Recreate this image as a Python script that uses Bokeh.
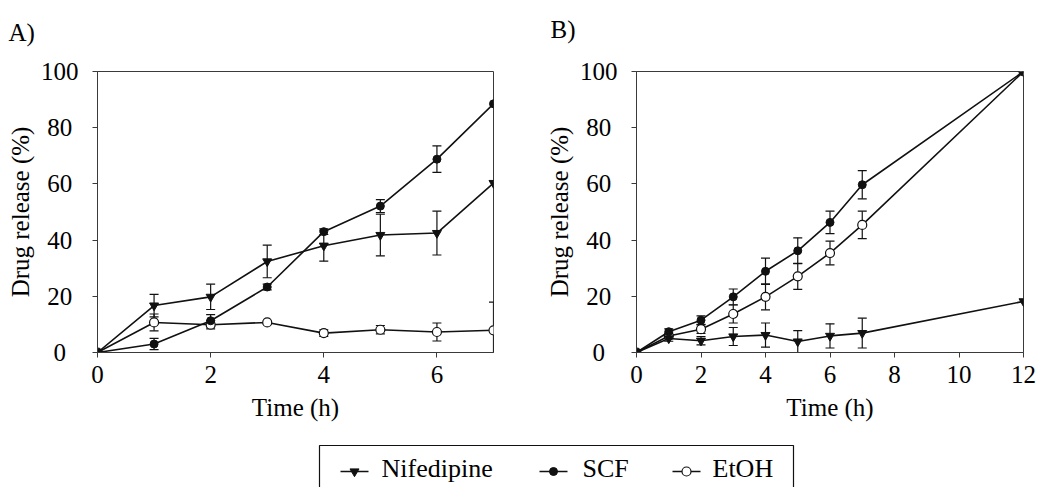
import numpy as np
from bokeh.plotting import figure
from bokeh.models import (Range1d, ColumnDataSource, Whisker, TeeHead,
                          FixedTicker)
from bokeh.layouts import column, row
from bokeh.embed import file_html
from bokeh.resources import INLINE

FONT = "Liberation Serif"

# ---------------- data ----------------
series_names = ["Nifedipine", "SCF", "EtOH"]

A_time = [0, 1, 2, 3, 4, 5, 6, 7]
A_nif = [0, 16.7, 19.8, 32.4, 38.0, 41.8, 42.5, 60.3]
A_nif_err = [0, 4.0, 4.5, 5.8, 5.5, 7.4, 7.8, 0]
A_scf = [0, 3.0, 11.3, 23.3, 43.0, 52.1, 68.8, 88.5]
A_scf_err = [0, 2.0, 2.2, 1.0, 1.0, 2.3, 4.7, 0]
A_etoh = [0, 10.7, 9.9, 10.7, 6.9, 8.1, 7.3, 7.9]
A_etoh_err = [0, 3.0, 1.5, 0, 1.2, 1.5, 3.2, 10.0]

B_time = [0, 1, 2, 3, 4, 5, 6, 7, 12]
B_nif = [0, 5.0, 4.2, 5.7, 6.2, 3.9, 5.9, 6.9, 18.2]
B_nif_err = [0, 1.0, 1.5, 3.2, 4.3, 3.9, 4.3, 5.3, 0]
B_scf = [0, 7.4, 11.5, 19.8, 28.9, 36.2, 46.3, 59.7, 100]
B_scf_err = [0, 1.0, 1.5, 2.8, 4.7, 4.6, 4.0, 5.0, 0]
B_etoh = [0, 5.9, 8.3, 13.7, 19.8, 27.1, 35.4, 45.4, 100]
B_etoh_err = [0, 1.0, 1.5, 3.2, 4.6, 4.6, 4.2, 4.9, 0]

A_xticks = [0, 2, 4, 6]
B_xticks = [0, 2, 4, 6, 8, 10, 12]
y_ticks = [0, 20, 40, 60, 80, 100]
y_tick_labels = ["0", "20", "40", "60", "80", "100"]

x_label = "Time (h)"
y_label = "Drug release (%)"
panel_labels = ["A)", "B)"]

LINE = "#111111"
AXIS = "#3a3a3a"

# pad y tick labels so that they look centred (as in the reference)
PAD = {1: "\u2002", 2: "\u2005", 3: ""}
y_overrides = {t: s + PAD[len(s)] for t, s in zip(y_ticks, y_tick_labels)}


def strip(height, y_top, y_bottom):
    s = figure(width=1046, height=height, x_range=Range1d(0, 1046),
               y_range=Range1d(y_bottom, y_top), toolbar_location=None,
               output_backend="svg", min_border=0)
    s.axis.visible = False
    s.xgrid.visible = False
    s.ygrid.visible = False
    s.outline_line_color = None
    return s


def style(p):
    p.xgrid.visible = False
    p.ygrid.visible = False
    p.outline_line_color = AXIS
    p.outline_line_width = 1
    p.background_fill_color = "white"
    p.border_fill_color = "white"
    for ax in (p.xaxis[0], p.yaxis[0]):
        ax.axis_line_color = AXIS
        ax.major_tick_line_color = AXIS
        ax.minor_tick_line_color = None
        ax.major_tick_in = 0
        ax.major_tick_out = 5
        ax.major_label_text_font = FONT
        ax.major_label_text_font_size = "25px"
        ax.major_label_text_color = "black"
        ax.axis_label_text_font = FONT
        ax.axis_label_text_font_size = "25px"
        ax.axis_label_text_font_style = "normal"
        ax.axis_label_text_color = "black"
    p.xaxis.major_label_standoff = 8
    p.xaxis.axis_label_standoff = 8
    p.yaxis.major_label_standoff = 14
    p.yaxis.axis_label_standoff = 4
    p.yaxis.major_label_overrides = y_overrides


def add_series(p, t, y, err, kind):
    src = ColumnDataSource(dict(x=t, y=y))
    p.line("x", "y", source=src, line_color=LINE, line_width=1.6)
    tt = np.array(t, dtype=float)
    yy = np.array(y, dtype=float)
    ee = np.array(err, dtype=float)
    m = ee > 0
    esrc = ColumnDataSource(dict(x=tt[m], up=yy[m] + ee[m], lo=yy[m] - ee[m]))
    w = Whisker(source=esrc, base="x", upper="up", lower="lo",
                line_color=LINE, line_width=1.2,
                upper_head=TeeHead(size=9, line_color=LINE, line_width=1.2),
                lower_head=TeeHead(size=9, line_color=LINE, line_width=1.2))
    p.add_layout(w)
    if kind == "tri":
        p.scatter("x", "y", source=src, marker="inverted_triangle", size=9,
                  fill_color=LINE, line_color=LINE)
    elif kind == "dot":
        p.scatter("x", "y", source=src, marker="circle", size=8,
                  fill_color=LINE, line_color=LINE)
    else:
        p.scatter("x", "y", source=src, marker="circle", size=9,
                  fill_color="white", line_color=LINE, line_width=1.2)


def make_panel(t, nif, nif_e, scf, scf_e, et, et_e, xmax, xticks,
               width, height, bl, br, bt, bb):
    p = figure(width=width, height=height, x_range=Range1d(0, xmax),
               y_range=Range1d(0, 100), toolbar_location=None,
               output_backend="svg", min_border_left=bl, min_border_right=br,
               min_border_top=bt, min_border_bottom=bb)
    style(p)
    p.xaxis.ticker = FixedTicker(ticks=xticks)
    p.yaxis.ticker = FixedTicker(ticks=y_ticks)
    p.xaxis.axis_label = x_label
    p.yaxis.axis_label = y_label
    add_series(p, t, et, et_e, "open")
    add_series(p, t, scf, scf_e, "dot")
    add_series(p, t, nif, nif_e, "tri")
    return p


TOP = 50
pA = make_panel(A_time, A_nif, A_nif_err, A_scf, A_scf_err, A_etoh,
                A_etoh_err, 7, A_xticks, 540, 391, 97, 47, 69 - TOP, 88)
pB = make_panel(B_time, B_nif, B_nif_err, B_scf, B_scf_err, B_etoh,
                B_etoh_err, 12, B_xticks, 506, 391, 96, 23, 71 - TOP, 89)

# ---------------- panel letters strip ----------------
pT = strip(TOP, 0, TOP)
pT.text([8, 550], [32, 29], text=panel_labels, text_font={"value": FONT},
        text_font_size="25px", text_color="black",
        text_baseline="middle", text_align="left")

# ---------------- legend strip ----------------
pL = strip(46, 441, 487)
pL.quad(left=[319], right=[793], top=[445], bottom=[495],
        fill_color=None, line_color=LINE, line_width=1.2)

leg_glyph_x0 = [340, 539, 672]
leg_text_x = [381, 582, 712]
leg_kinds = ["tri", "dot", "open"]
gy = 471
for x0, tx, kind, name in zip(leg_glyph_x0, leg_text_x, leg_kinds, series_names):
    pL.line([x0, x0 + 28], [gy, gy], line_color=LINE, line_width=1.6)
    if kind == "tri":
        pL.scatter([x0 + 14], [gy], marker="inverted_triangle", size=9,
                   fill_color=LINE, line_color=LINE)
    elif kind == "dot":
        pL.scatter([x0 + 14], [gy], marker="circle", size=8,
                   fill_color=LINE, line_color=LINE)
    else:
        pL.scatter([x0 + 14], [gy], marker="circle", size=9,
                   fill_color="white", line_color=LINE, line_width=1.2)
    pL.text([tx], [468], text=[name], text_font={"value": FONT},
            text_font_size="26px", text_color="black",
            text_baseline="middle", text_align="left")

layout = column(pT, row(pA, pB), pL)
open("out.html", "w").write(file_html(layout, INLINE))
